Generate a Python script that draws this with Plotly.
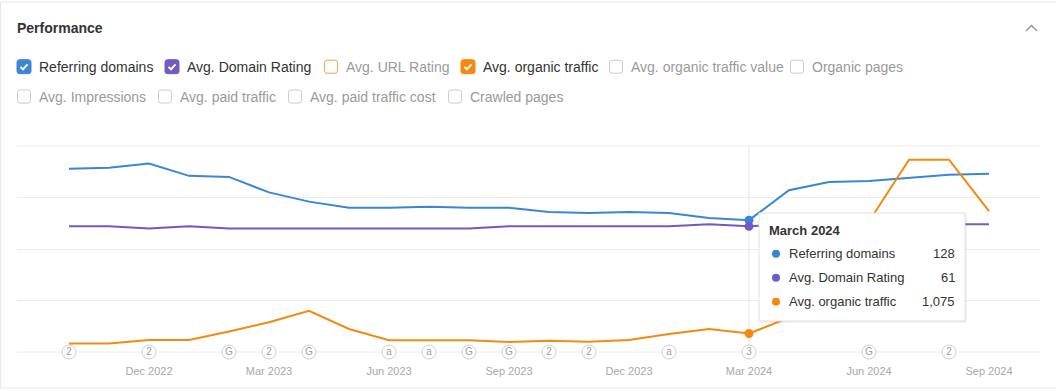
import plotly.graph_objects as go

# ---------------- data ----------------
months = ["Oct 2022", "Nov 2022", "Dec 2022", "Jan 2023", "Feb 2023", "Mar 2023",
          "Apr 2023", "May 2023", "Jun 2023", "Jul 2023", "Aug 2023", "Sep 2023",
          "Oct 2023", "Nov 2023", "Dec 2023", "Jan 2024", "Feb 2024", "Mar 2024",
          "Apr 2024", "May 2024", "Jun 2024", "Jul 2024", "Aug 2024", "Sep 2024"]
referring_domains = [178, 179, 183, 171, 170, 155, 146, 140, 140, 141, 140, 140,
                     136, 135, 136, 135, 130, 128, 157, 165, 166, 169, 172, 173]
domain_rating = [61, 61, 60, 61, 60, 60, 60, 60, 60, 60, 60, 61,
                 61, 61, 61, 61, 62, 61, 62, 62, 62, 62, 62, 62]
organic_traffic = [500, 500, 700, 700, 1200, 1730, 2400, 1340, 680, 680, 680, 580,
                   660, 600, 700, 1050, 1340, 1075, 2000, 4800, 7600, 11200, 11200, 8200]
tick_labels = ["Dec 2022", "Mar 2023", "Jun 2023", "Sep 2023", "Dec 2023",
               "Mar 2024", "Jun 2024", "Sep 2024"]
event_months = ["Oct 2022", "Dec 2022", "Feb 2023", "Mar 2023", "Apr 2023", "Jun 2023",
                "Jul 2023", "Aug 2023", "Sep 2023", "Oct 2023", "Nov 2023", "Jan 2024",
                "Mar 2024", "Jun 2024", "Aug 2024"]
event_labels = ["2", "2", "G", "2", "G", "a", "a", "G", "G", "2", "2", "a", "3", "G", "2"]
checkbox_row1 = ["Referring domains", "Avg. Domain Rating", "Avg. URL Rating",
                 "Avg. organic traffic", "Avg. organic traffic value", "Organic pages"]
checkbox_row2 = ["Avg. Impressions", "Avg. paid traffic", "Avg. paid traffic cost", "Crawled pages"]
hover_month = "March 2024"
hover_index = months.index("Mar 2024")

# ---------------- styles ----------------
BLUE = "#3a86d4"
PURPLE = "#7459c2"
ORANGE = "#f5890d"
FONT = "Liberation Sans, Arial, sans-serif"
WIDTH, HEIGHT = 1056, 391
L, R, T, B = 17, 1040, 146, 352
PW, PH = R - L, B - T

def px(x):
    return (x - L) / PW

def py(y):
    return (B - y) / PH

idx = list(range(len(months)))
first_px = 69
step_px = 40
x_range = [-(first_px - L) / step_px, (R - first_px) / step_px]

fig = go.Figure()

fig.add_trace(go.Scatter(x=idx, y=referring_domains, mode="lines", yaxis="y",
                         line=dict(color=BLUE, width=2), hoverinfo="skip", showlegend=False))
fig.add_trace(go.Scatter(x=idx, y=domain_rating, mode="lines", yaxis="y2",
                         line=dict(color=PURPLE, width=2), hoverinfo="skip", showlegend=False))
fig.add_trace(go.Scatter(x=idx, y=organic_traffic, mode="lines", yaxis="y3",
                         line=dict(color=ORANGE, width=2), hoverinfo="skip", showlegend=False))

# hover markers
fig.add_trace(go.Scatter(x=[hover_index], y=[referring_domains[hover_index]], yaxis="y", mode="markers",
                         marker=dict(color=BLUE, size=9), hoverinfo="skip", showlegend=False))
fig.add_trace(go.Scatter(x=[hover_index], y=[domain_rating[hover_index]], yaxis="y2", mode="markers",
                         marker=dict(color=PURPLE, size=9), hoverinfo="skip", showlegend=False))
fig.add_trace(go.Scatter(x=[hover_index], y=[organic_traffic[hover_index]], yaxis="y3", mode="markers",
                         marker=dict(color=ORANGE, size=9), hoverinfo="skip", showlegend=False))

# event markers on x axis
ev_x = [months.index(m) for m in event_months]
fig.add_trace(go.Scatter(x=ev_x, y=[0] * len(ev_x), yaxis="y", mode="markers+text",
                         text=event_labels, textposition="middle center",
                         textfont=dict(size=10, color="#a0a0a0", family=FONT),
                         marker=dict(size=14, color="white", line=dict(color="#cfcfcf", width=1)),
                         cliponaxis=False, hoverinfo="skip", showlegend=False))

tickvals = [months.index(t) for t in tick_labels]

shapes = []
annotations = []

# edge gridlines (top and bottom of plot area)
for yy in (T, B):
    shapes.append(dict(type="line", xref="paper", yref="paper", x0=0, x1=1, y0=py(yy), y1=py(yy),
                       line=dict(color="#ececec", width=1), layer="below"))

# card borders
shapes.append(dict(type="line", xref="paper", yref="paper", x0=px(0), x1=px(WIDTH), y0=py(2), y1=py(2),
                   line=dict(color="#e6e6e6", width=1)))
shapes.append(dict(type="line", xref="paper", yref="paper", x0=px(0), x1=px(WIDTH), y0=py(388), y1=py(388),
                   line=dict(color="#e6e6e6", width=1)))
shapes.append(dict(type="line", xref="paper", yref="paper", x0=px(0.5), x1=px(0.5), y0=py(2), y1=py(388),
                   line=dict(color="#e6e6e6", width=1)))

# chevron
shapes.append(dict(type="path", xref="paper", yref="paper",
                   path=f"M {px(1026)},{py(31)} L {px(1031.5)},{py(25.5)} L {px(1037)},{py(31)}",
                   line=dict(color="#9a9a9a", width=1.5)))

# title
annotations.append(dict(text="<b>Performance</b>", xref="paper", yref="paper", x=px(15), y=py(28),
                        xanchor="left", yanchor="middle", showarrow=False,
                        font=dict(size=14, color="#333333", family=FONT)))

def rounded_rect(x0, y0, x1, y1, r):
    pts = (f"M {px(x0 + r)},{py(y0)} L {px(x1 - r)},{py(y0)} Q {px(x1)},{py(y0)} {px(x1)},{py(y0 + r)} "
           f"L {px(x1)},{py(y1 - r)} Q {px(x1)},{py(y1)} {px(x1 - r)},{py(y1)} "
           f"L {px(x0 + r)},{py(y1)} Q {px(x0)},{py(y1)} {px(x0)},{py(y1 - r)} "
           f"L {px(x0)},{py(y0 + r)} Q {px(x0)},{py(y0)} {px(x0 + r)},{py(y0)} Z")
    return pts

def checkbox(x0, cy, label, state, color):
    y0, y1 = cy - 7, cy + 7
    x1 = x0 + 14
    if state == "checked":
        shapes.append(dict(type="path", xref="paper", yref="paper", path=rounded_rect(x0, y0, x1, y1, 2.5),
                           fillcolor=color, line=dict(color=color, width=1)))
        shapes.append(dict(type="path", xref="paper", yref="paper",
                           path=f"M {px(x0 + 3.5)},{py(cy + 0.2)} L {px(x0 + 6)},{py(cy + 2.7)} L {px(x0 + 10.5)},{py(cy - 2.3)}",
                           line=dict(color="white", width=2)))
        tcolor = "#333333"
    else:
        shapes.append(dict(type="path", xref="paper", yref="paper", path=rounded_rect(x0 + 0.5, y0 + 0.5, x1 - 0.5, y1 - 0.5, 2.5),
                           fillcolor="white", line=dict(color=color, width=1)))
        tcolor = "#9a9a9a"
    annotations.append(dict(text=label, xref="paper", yref="paper", x=px(x0 + 20), y=py(cy),
                            xanchor="left", yanchor="middle", showarrow=False,
                            font=dict(size=14, color=tcolor, family=FONT)))

row1_x = [17, 165, 324, 461, 609, 790]
row1_state = ["checked", "checked", "empty", "checked", "empty", "empty"]
row1_color = [BLUE, PURPLE, "#f3a54c", ORANGE, "#cccccc", "#cccccc"]
for x0, lab, st, col in zip(row1_x, checkbox_row1, row1_state, row1_color):
    checkbox(x0, 66.7, lab, st, col)

row2_x = [17, 158, 288, 448]
for x0, lab in zip(row2_x, checkbox_row2):
    checkbox(x0, 96.5, lab, "empty", "#cccccc")

# hover vertical line
hx = px(first_px + step_px * hover_index)
shapes.append(dict(type="line", xref="paper", yref="paper", x0=hx, x1=hx, y0=0, y1=1,
                   line=dict(color="#e3e3e3", width=1), layer="below"))

# tooltip
shapes.append(dict(type="rect", xref="paper", yref="paper", x0=px(760), x1=px(967), y0=py(215), y1=py(323),
                   fillcolor="rgba(0,0,0,0.05)", line=dict(width=0), layer="above"))
shapes.append(dict(type="rect", xref="paper", yref="paper", x0=px(759), x1=px(965), y0=py(213), y1=py(321),
                   fillcolor="white", line=dict(color="#e0e0e0", width=1), layer="above"))
annotations.append(dict(text=f"<b>{hover_month}</b>", xref="paper", yref="paper", x=px(767), y=py(230),
                        xanchor="left", yanchor="middle", showarrow=False,
                        font=dict(size=13, color="#333333", family=FONT)))
tip_rows = [("Referring domains", f"{referring_domains[hover_index]:,}", BLUE),
            ("Avg. Domain Rating", f"{domain_rating[hover_index]:,}", PURPLE),
            ("Avg. organic traffic", f"{organic_traffic[hover_index]:,}", ORANGE)]
for i, (lab, val, col) in enumerate(tip_rows):
    cy = 253.7 + 24 * i
    shapes.append(dict(type="circle", xref="paper", yref="paper", x0=px(772), x1=px(780),
                       y0=py(cy - 4), y1=py(cy + 4), fillcolor=col, line=dict(width=0), layer="above"))
    annotations.append(dict(text=lab, xref="paper", yref="paper", x=px(787), y=py(cy),
                            xanchor="left", yanchor="middle", showarrow=False,
                            font=dict(size=13, color="#333333", family=FONT)))
    annotations.append(dict(text=val, xref="paper", yref="paper", x=px(957), y=py(cy),
                            xanchor="right", yanchor="middle", showarrow=False,
                            font=dict(size=13, color="#333333", family=FONT)))

fig.update_layout(
    width=WIDTH, height=HEIGHT,
    margin=dict(l=L, r=WIDTH - R, t=T, b=HEIGHT - B),
    paper_bgcolor="white", plot_bgcolor="white",
    font=dict(family=FONT),
    xaxis=dict(range=x_range, tickvals=tickvals, ticktext=tick_labels, showgrid=False,
               zeroline=False, showline=False, ticks="outside", ticklen=9, tickcolor="rgba(0,0,0,0)",
               tickfont=dict(size=11, color="#a8a8a8", family=FONT), fixedrange=True),
    yaxis=dict(range=[0, 200], tickvals=[0, 50, 100, 150, 200], showticklabels=False,
               showgrid=True, gridcolor="#ececec", gridwidth=1, zeroline=False, showline=False),
    yaxis2=dict(range=[0, 100], overlaying="y", visible=False),
    yaxis3=dict(range=[0, 12000], overlaying="y", visible=False),
    shapes=shapes, annotations=annotations, hovermode=False,
)

fig.write_html("out.html")
